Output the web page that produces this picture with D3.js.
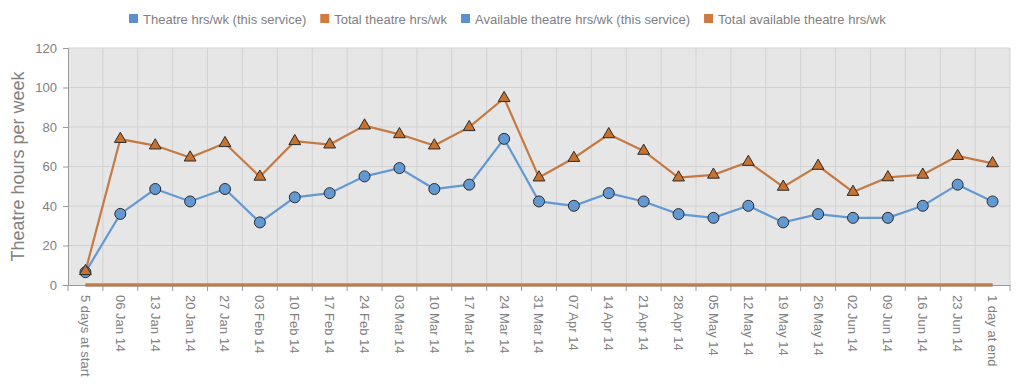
<!DOCTYPE html>
<html>
<head>
<meta charset="utf-8">
<script src="https://cdn.jsdelivr.net/npm/d3@7"></script>
<style>
  body { margin: 0; background: #fff; font-family: "Liberation Sans", Arial, sans-serif; }
</style>
</head>
<body>
<div id="chart"></div>
<script>
const categories = ["5 days at start", "06 Jan 14", "13 Jan 14", "20 Jan 14", "27 Jan 14", "03 Feb 14",
    "10 Feb 14", "17 Feb 14", "24 Feb 14", "03 Mar 14", "10 Mar 14", "17 Mar 14", "24 Mar 14",
    "31 Mar 14", "07 Apr 14", "14 Apr 14", "21 Apr 14", "28 Apr 14", "05 May 14", "12 May 14",
    "19 May 14", "26 May 14", "02 Jun 14", "09 Jun 14", "16 Jun 14", "23 Jun 14", "1 day at end"];
const serviceHrs = [6.5, 36, 48.6, 42.3, 48.6, 31.7, 44.4, 46.5, 55, 59.2, 48.6, 50.8, 74,
    42.3, 40.1, 46.5, 42.3, 35.9, 34, 40.1, 31.7, 35.9, 34, 34, 40.1, 50.8, 42.3];
const totalHrs = [7, 73.9, 70.6, 64.5, 71.8, 54.8, 72.8, 71.1, 80.7, 76.3, 70.6, 79.9, 94.6,
    54.4, 64.3, 76.3, 67.9, 54.4, 55.8, 62.3, 49.7, 60.3, 47.1, 54.5, 55.8, 65.3, 61.6];
const availServiceHrs = categories.map(() => 0);
const availTotalHrs = categories.map(() => 0);
const seriesNames = ["Theatre hrs/wk (this service)", "Total theatre hrs/wk",
    "Available theatre hrs/wk (this service)", "Total available theatre hrs/wk"];
const yTicks = [0, 20, 40, 60, 80, 100, 120];

const BLUE = "#6399d3", ORANGE = "#c57a44";
const width = 1024, height = 388;
const margin = { top: 48, right: 14, bottom: 103, left: 68 };

const svg = d3.select("#chart").append("svg")
    .attr("width", width)
    .attr("height", height);

const x = d3.scaleBand()
    .domain(categories)
    .range([margin.left, width - margin.right]);

const y = d3.scaleLinear()
    .domain([0, 120])
    .range([height - margin.bottom, margin.top]);

// plot background
svg.append("rect")
    .attr("x", margin.left)
    .attr("y", margin.top)
    .attr("width", width - margin.left - margin.right)
    .attr("height", y(0) - margin.top)
    .attr("fill", "#e6e6e6");

// grid
svg.append("g").selectAll("line")
    .data(yTicks.slice(1))
    .join("line")
    .attr("x1", margin.left).attr("x2", width - margin.right)
    .attr("y1", d => y(d)).attr("y2", d => y(d))
    .attr("stroke", "#d2d2d2");

svg.append("g").selectAll("line")
    .data(categories)
    .join("line")
    .attr("x1", d => x(d) + x.bandwidth()).attr("x2", d => x(d) + x.bandwidth())
    .attr("y1", margin.top).attr("y2", y(0))
    .attr("stroke", "#d2d2d2");

// axes
const yAxis = svg.append("g")
    .attr("transform", `translate(${margin.left},0)`)
    .call(d3.axisLeft(y).tickValues(yTicks).tickSize(5).tickPadding(6));
yAxis.select(".domain").attr("stroke", "#999");
yAxis.selectAll(".tick line").attr("stroke", "#999");
yAxis.selectAll("text")
    .attr("fill", "#808080")
    .style("font-size", "13px")
    .style("font-family", "Liberation Sans, Arial, sans-serif");

const xAxis = svg.append("g")
    .attr("transform", `translate(0,${y(0)})`)
    .call(d3.axisBottom(x).tickSize(0).tickSizeOuter(0));
xAxis.select(".domain").attr("stroke", "#999");
xAxis.selectAll(".tick text")
    .attr("transform", "rotate(90)")
    .attr("x", 10).attr("y", 0).attr("dy", "0.35em")
    .attr("text-anchor", "start")
    .attr("fill", "#808080")
    .style("font-size", "13px")
    .style("font-family", "Liberation Sans, Arial, sans-serif");

// x tick marks on band boundaries
svg.append("g").selectAll("line")
    .data([margin.left].concat(categories.map(d => x(d) + x.bandwidth())))
    .join("line")
    .attr("x1", d => d).attr("x2", d => d)
    .attr("y1", y(0)).attr("y2", y(0) + 6)
    .attr("stroke", "#999");

// y title
svg.append("text")
    .attr("transform", `translate(24,${(margin.top + y(0)) / 2}) rotate(-90)`)
    .attr("text-anchor", "middle")
    .attr("fill", "#808080")
    .style("font-size", "18px")
    .text("Theatre hours per week");

// lines
const cx = d => x(d) + x.bandwidth() / 2;
const line = d3.line()
    .x((d, i) => cx(categories[i]))
    .y(d => y(d));

function drawLine(values, color, w) {
    svg.append("path")
        .datum(values)
        .attr("d", line)
        .attr("fill", "none")
        .attr("stroke", color)
        .attr("stroke-width", w);
}

drawLine(availServiceHrs, BLUE, 3);
drawLine(availTotalHrs, ORANGE, 3);
drawLine(serviceHrs, BLUE, 2.2);
drawLine(totalHrs, ORANGE, 2.2);

svg.append("g").selectAll("circle")
    .data(serviceHrs)
    .join("circle")
    .attr("cx", (d, i) => cx(categories[i]))
    .attr("cy", d => y(d))
    .attr("r", 5.5)
    .attr("fill", BLUE)
    .attr("stroke", "#2b2b2b")
    .attr("stroke-width", 1);

const tri = d3.symbol().type(d3.symbolTriangle).size(60);
svg.append("g").selectAll("path")
    .data(totalHrs)
    .join("path")
    .attr("d", tri)
    .attr("transform", (d, i) => `translate(${cx(categories[i])},${y(d)})`)
    .attr("fill", "#c8722f")
    .attr("stroke", "#2b2b2b")
    .attr("stroke-width", 1);

// legend
const legendColors = [BLUE, ORANGE, BLUE, ORANGE];
const legend = svg.append("g").attr("transform", "translate(0,19)");
let lx = 129;
seriesNames.forEach((name, i) => {
    legend.append("rect")
        .attr("x", lx).attr("y", -5)
        .attr("width", 9).attr("height", 9)
        .attr("fill", legendColors[i] === BLUE ? "#5b8fd0" : "#d07a40");
    const t = legend.append("text")
        .attr("x", lx + 14).attr("y", 0).attr("dy", "0.35em")
        .attr("fill", "#808080")
        .style("font-size", "13px")
        .text(name);
    lx += 14 + t.node().getComputedTextLength() + 14;
});
</script>
</body>
</html>
